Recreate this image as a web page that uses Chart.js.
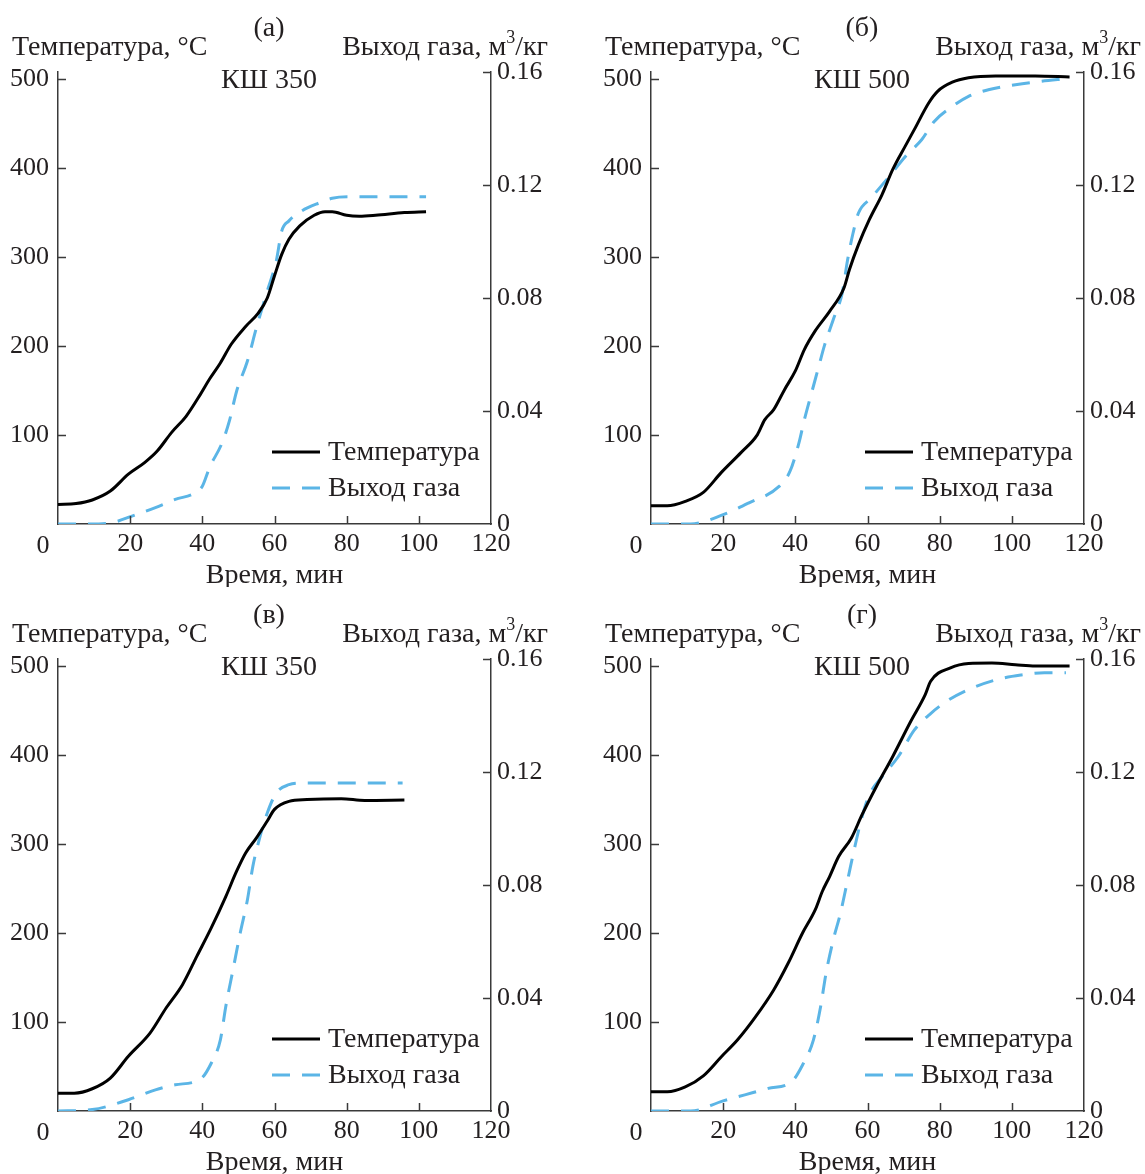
<!DOCTYPE html>
<html>
<head>
<meta charset="utf-8">
<script src="https://cdn.jsdelivr.net/npm/chart.js@4"></script>
<style>
  body { margin: 0; background: #fff; }
  #page { position: relative; width: 1145px; height: 1174px; overflow: hidden; font-family: "Liberation Serif", serif; color: #231f20; }
  .panel { position: absolute; width: 552px; height: 587px; }
  .panel canvas { position: absolute; left: 0; top: 0; }
  .txt { position: absolute; font-size: 28px; line-height: 28px; white-space: nowrap; }
  .mid { transform: translateX(-50%); }
  sup { font-size: 18px; line-height: 0; position: relative; top: -2px; }
</style>
</head>
<body>
<div id="page"></div>
<script>
// ---- data ----
// (а) КШ 350
const timeTempA = [0, 5, 9.5, 14.5, 19.5, 24, 27.5, 31.5, 35.5, 39.5, 42, 45, 48, 52, 55.5, 58, 60, 62, 64, 67, 71, 74, 76, 80, 83.5, 88, 96, 102]
const tempA = [22, 23, 27, 37, 56, 69, 82, 103, 121, 146, 163, 181, 202, 222, 237, 254, 279, 303, 320, 335, 347, 351, 351, 347, 346, 347, 350, 351]
const timeGasA = [0, 8.5, 15, 20.5, 27, 32.5, 38, 40, 42, 45.5, 47.5, 49.5, 52.5, 55, 58, 60.5, 62, 64, 67.5, 72.5, 76, 80.5, 102]
const gasA = [0, 0, 0.0005, 0.0028, 0.0058, 0.0087, 0.011, 0.0134, 0.020, 0.0288, 0.0365, 0.047, 0.0577, 0.0695, 0.0825, 0.0931, 0.1037, 0.1073, 0.1108, 0.1137, 0.1153, 0.1158, 0.1158]

// (б) КШ 500
const timeTempB = [0, 4.5, 9.5, 14.5, 19.5, 25, 29.5, 31.5, 34, 37, 40, 42.5, 45.5, 49.5, 53.5, 55, 57.5, 60.5, 64, 67, 70.5, 73, 77, 79.5, 83.5, 88, 95.5, 106.5, 116]
const tempB = [20.5, 20.5, 25.5, 35.5, 58, 80.5, 100.5, 117, 128.5, 151, 172, 196, 217, 239, 265.5, 286, 314, 342, 370, 398.5, 425, 443.5, 473.5, 486.5, 496.5, 501.5, 503.5, 503.5, 502.5]
const timeGasB = [0, 11, 20, 27, 35.5, 38.5, 41, 42.5, 44.5, 46.5, 48, 50.5, 53, 54.5, 56, 57.5, 61, 66, 70.5, 75, 78.5, 83.5, 88, 93.5, 101, 108, 115]
const gasB = [0, 0, 0.0033, 0.0074, 0.0133, 0.0186, 0.0287, 0.0369, 0.0464, 0.0558, 0.0629, 0.0723, 0.0818, 0.0936, 0.103, 0.1101, 0.1154, 0.123, 0.1301, 0.136, 0.1425, 0.1478, 0.1514, 0.1537, 0.1555, 0.1567, 0.1576]

// (в) КШ 350
const timeTempC = [0, 4.5, 9.5, 14.5, 19.5, 25.5, 30, 34.5, 38.5, 42.5, 46.5, 49.5, 52, 55, 58, 60, 64, 69, 78.5, 85, 96]
const tempC = [20, 20, 25, 37, 61.5, 87.5, 116, 142, 174, 206, 241, 269.5, 290, 307, 326, 339, 348, 350, 351, 349, 349.5]
const timeGasC = [0, 9.5, 19.5, 27, 32.5, 39.5, 42.5, 45, 46.5, 48.5, 50.5, 52.5, 54, 56, 58, 60.5, 64, 67.5, 95.5]
const gasC = [0, 0.0005, 0.004, 0.0075, 0.0093, 0.0113, 0.017, 0.0252, 0.037, 0.050, 0.063, 0.0748, 0.0866, 0.0972, 0.1055, 0.1126, 0.1155, 0.1161, 0.1161]

// (г) КШ 500
const timeTempD = [0, 4.5, 9.5, 14.5, 19.5, 24, 29, 34, 38, 42, 45.5, 47.5, 49.5, 52, 55.5, 58.5, 62.5, 67, 72, 76, 77.5, 83, 88, 94.5, 101, 106.5, 116]
const tempD = [21.5, 21.5, 27, 39.5, 61, 80, 106, 136, 166, 200, 226, 247, 263.5, 286, 306.5, 333, 365, 398.5, 438, 468, 483, 498, 503, 503.5, 501.5, 500, 500]
const timeGasD = [0, 11, 20, 26, 32.5, 39, 42, 45, 47, 48.5, 50.5, 52.5, 54.5, 56.5, 58.5, 60.5, 64, 68.5, 73, 77.5, 82.5, 88, 95.5, 102.5, 109, 115]
const gasD = [0, 0, 0.0036, 0.0057, 0.008, 0.0104, 0.0163, 0.0251, 0.0369, 0.0487, 0.0605, 0.070, 0.0818, 0.0936, 0.1042, 0.1119, 0.1183, 0.1254, 0.1349, 0.1407, 0.1455, 0.1492, 0.1526, 0.1543, 0.1551, 0.1551]

const xTicks = [0, 20, 40, 60, 80, 100, 120]
const tempTicks = [100, 200, 300, 400, 500]
const gasTicks = [0, 0.04, 0.08, 0.12, 0.16]

const panels = [
  { letter: '(a)', name: 'КШ 350', left: 0, top: 0, tt: timeTempA, t: tempA, tg: timeGasA, g: gasA },
  { letter: '(б)', name: 'КШ 500', left: 593, top: 0, tt: timeTempB, t: tempB, tg: timeGasB, g: gasB },
  { letter: '(в)', name: 'КШ 350', left: 0, top: 587, tt: timeTempC, t: tempC, tg: timeGasC, g: gasC },
  { letter: '(г)', name: 'КШ 500', left: 593, top: 587, tt: timeTempD, t: tempD, tg: timeGasD, g: gasD }
]

const textColor = '#231f20'
const axisColor = '#3a3a3a'
const blue = '#5bb5e6'
const fontFam = '"Liberation Serif", serif'
const FS = 26   // numbers
const FW = 28   // words

// inward tick marks, legend inside the plot and the shared "0" in the corner
const extras = {
  id: 'extras',
  afterDraw(chart) {
    const ctx = chart.ctx
    const a = chart.chartArea
    const sx = chart.scales.x, sy = chart.scales.y, sy1 = chart.scales.y1
    const L = 8
    ctx.save()
    ctx.strokeStyle = axisColor
    ctx.lineWidth = 1.5
    ctx.beginPath()
    xTicks.forEach(v => {
      if (v <= 0 || v >= 120) return
      const px = Math.round(sx.getPixelForValue(v)) + 0.5
      ctx.moveTo(px, a.bottom); ctx.lineTo(px, a.bottom - L)
    })
    tempTicks.forEach(v => {
      const py = Math.round(sy.getPixelForValue(v)) + 0.5
      ctx.moveTo(a.left, py); ctx.lineTo(a.left + L, py)
    })
    gasTicks.forEach(v => {
      if (v === 0) return
      const py = Math.round(sy1.getPixelForValue(v)) + 0.5
      ctx.moveTo(a.right, py); ctx.lineTo(a.right - L, py)
    })
    ctx.stroke()

    // corner zero
    ctx.fillStyle = textColor
    ctx.font = FS + 'px ' + fontFam
    ctx.textAlign = 'center'
    ctx.textBaseline = 'middle'
    ctx.fillText('0', sx.getPixelForValue(0) - 15, a.bottom + 22)

    // legend
    ctx.font = FW + 'px ' + fontFam
    ctx.textAlign = 'left'
    chart.data.datasets.forEach((ds, i) => {
      const y = a.top + 380 + i * 36
      const x0 = a.left + 214
      ctx.strokeStyle = ds.borderColor
      ctx.lineWidth = 3.2
      ctx.setLineDash(ds.borderDash || [])
      ctx.beginPath()
      ctx.moveTo(x0, y); ctx.lineTo(x0 + 48, y)
      ctx.stroke()
      ctx.setLineDash([])
      ctx.fillText(ds.label, x0 + 56, y + 1)
    })
    ctx.restore()
  }
}

const page = document.getElementById('page')

function toPoints(xs, ys) {
  return xs.map((x, i) => ({ x: x, y: ys[i] }))
}

panels.forEach(p => {
  const div = document.createElement('div')
  div.className = 'panel'
  div.style.left = p.left + 'px'
  div.style.top = p.top + 'px'
  div.innerHTML =
    '<canvas width="552" height="587"></canvas>' +
    '<div class="txt mid" style="left:269px;top:13px">' + p.letter + '</div>' +
    '<div class="txt" style="left:12px;top:32px">Температура, °C</div>' +
    '<div class="txt" style="right:4px;top:32px">Выход газа, м<sup>3</sup>/кг</div>' +
    '<div class="txt mid" style="left:269px;top:65px">' + p.name + '</div>'
  page.appendChild(div)

  new Chart(div.querySelector('canvas'), {
    type: 'line',
    data: {
      datasets: [
        {
          label: 'Температура',
          data: toPoints(p.tt, p.t),
          yAxisID: 'y',
          borderColor: '#000',
          borderWidth: 3,
          pointRadius: 0,
          cubicInterpolationMode: 'monotone'
        },
        {
          label: 'Выход газа',
          data: toPoints(p.tg, p.g),
          yAxisID: 'y1',
          borderColor: blue,
          borderWidth: 3,
          borderDash: [18, 12],
          pointRadius: 0,
          cubicInterpolationMode: 'monotone'
        }
      ]
    },
    options: {
      responsive: false,
      animation: false,
      layout: { padding: { top: 72, left: 0, right: 0, bottom: 0 } },
      plugins: { legend: { display: false }, tooltip: { enabled: false } },
      scales: {
        x: {
          type: 'linear',
          min: 0, max: 120,
          afterFit: s => { s.height = 63 },
          afterBuildTicks: s => { s.ticks = xTicks.map(v => ({ value: v })) },
          grid: { display: false, drawTicks: false },
          border: { display: true, color: axisColor, width: 1.5 },
          ticks: {
            autoSkip: false, maxRotation: 0, padding: 5, color: textColor,
            font: { family: fontFam, size: FS },
            callback: v => v === 0 ? '' : String(v)
          },
          title: {
            display: true, text: 'Время, мин', color: textColor,
            font: { family: fontFam, size: FW, lineHeight: 1 },
            padding: { top: 0, bottom: -3 }
          }
        },
        y: {
          position: 'left',
          min: 0, max: 508,
          afterFit: s => { s.width = 58 },
          afterBuildTicks: s => { s.ticks = tempTicks.map(v => ({ value: v })) },
          grid: { display: false, drawTicks: false },
          border: { display: true, color: axisColor, width: 1.5 },
          ticks: { padding: 9, color: textColor, font: { family: fontFam, size: FS } }
        },
        y1: {
          position: 'right',
          min: 0, max: 0.16,
          afterFit: s => { s.width = 61 },
          afterBuildTicks: s => { s.ticks = gasTicks.map(v => ({ value: v })) },
          grid: { display: false, drawTicks: false },
          border: { display: true, color: axisColor, width: 1.5 },
          ticks: {
            padding: 6, color: textColor, font: { family: fontFam, size: FS },
            callback: v => v === 0 ? '0' : v.toFixed(2)
          }
        }
      }
    },
    plugins: [extras]
  })
})
</script>
</body>
</html>
